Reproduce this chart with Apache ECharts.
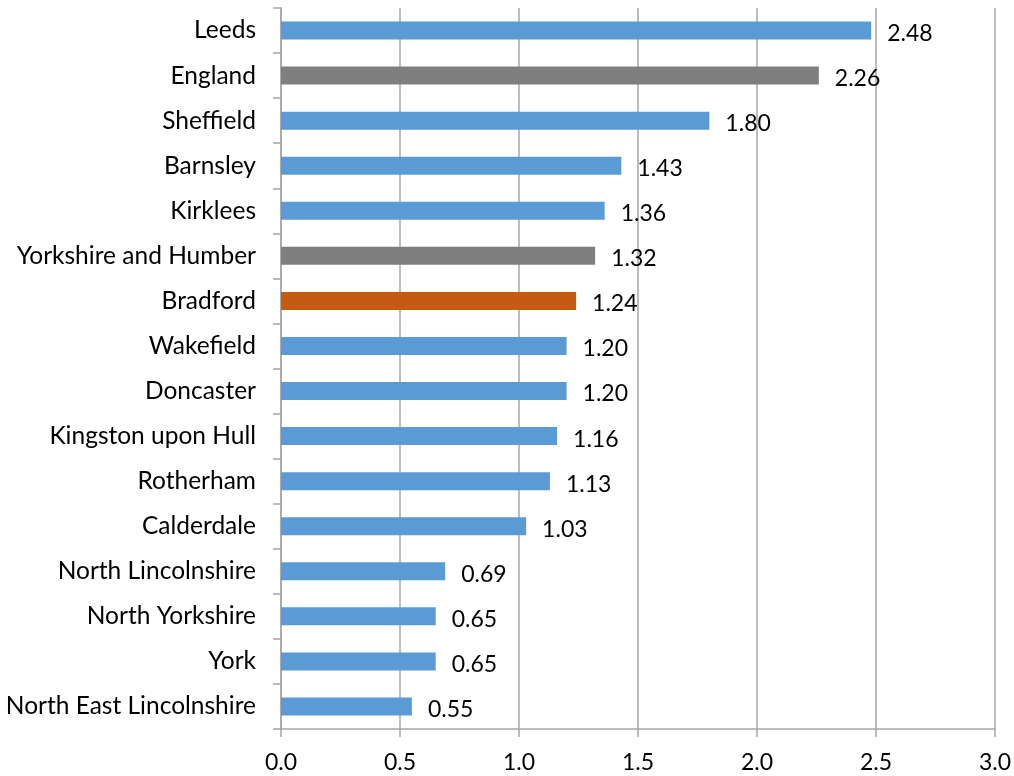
<!DOCTYPE html>
<html>
<head>
<meta charset="utf-8">
<script src="https://cdn.jsdelivr.net/npm/echarts@6/dist/echarts.min.js"></script>
<style>
  html, body { margin: 0; padding: 0; background: #fff; }
  #chart { width: 1014px; height: 776px; }
</style>
</head>
<body>
<div id="chart"></div>
<script>
// Rate per area, sorted high to low
const categories = [
  'Leeds', 'England', 'Sheffield', 'Barnsley', 'Kirklees',
  'Yorkshire and Humber', 'Bradford', 'Wakefield', 'Doncaster',
  'Kingston upon Hull', 'Rotherham', 'Calderdale', 'North Lincolnshire',
  'North Yorkshire', 'York', 'North East Lincolnshire'
];
const values = [
  2.48, 2.26, 1.80, 1.43, 1.36,
  1.32, 1.24, 1.20, 1.20,
  1.16, 1.13, 1.03, 0.69,
  0.65, 0.65, 0.55
];
// Comparator rows and the area in focus
const benchmarks = ['England', 'Yorkshire and Humber'];
const focusArea = 'Bradford';
const xTicks = [0, 0.5, 1.0, 1.5, 2.0, 2.5, 3.0];

const FONT = 'Lato';
const COLORS = { area: '#5B9BD5', benchmark: '#7F7F7F', focus: '#C55A11' };

function barColor(name) {
  if (name === focusArea) return COLORS.focus;
  if (benchmarks.includes(name)) return COLORS.benchmark;
  return COLORS.area;
}

const chart = echarts.init(document.getElementById('chart'));
chart.setOption({
  animation: false,
  grid: { left: 281, right: 18, top: 8, bottom: 47, containLabel: false },
  xAxis: {
    type: 'value',
    min: xTicks[0],
    max: xTicks[xTicks.length - 1],
    interval: 0.5,
    axisLine: { show: true, lineStyle: { color: '#A6A6A6', width: 1.5 } },
    axisTick: { show: true, length: 8, lineStyle: { color: '#A6A6A6', width: 1.5 } },
    splitLine: { show: true, lineStyle: { color: '#A6A6A6', width: 1.5 } },
    axisLabel: {
      margin: 22,
      color: '#000',
      fontFamily: FONT,
      fontSize: 23,
      formatter: v => v.toFixed(1)
    }
  },
  yAxis: {
    type: 'category',
    inverse: true,
    data: categories,
    axisLine: { show: true, lineStyle: { color: '#A6A6A6', width: 1.5 } },
    axisTick: { show: true, length: 8, alignWithLabel: false, lineStyle: { color: '#A6A6A6', width: 1.5 } },
    axisLabel: {
      margin: 25,
      color: '#000',
      fontFamily: FONT,
      fontSize: 24.5
    }
  },
  series: [{
    type: 'bar',
    barWidth: '40%',
    data: values.map((v, i) => ({
      value: v,
      itemStyle: { color: barColor(categories[i]) }
    })),
    label: {
      show: true,
      position: 'right',
      distance: 16,
      offset: [0, 3],
      color: '#000',
      fontFamily: FONT,
      fontSize: 23,
      formatter: p => p.value.toFixed(2)
    }
  }]
});
</script>
</body>
</html>
